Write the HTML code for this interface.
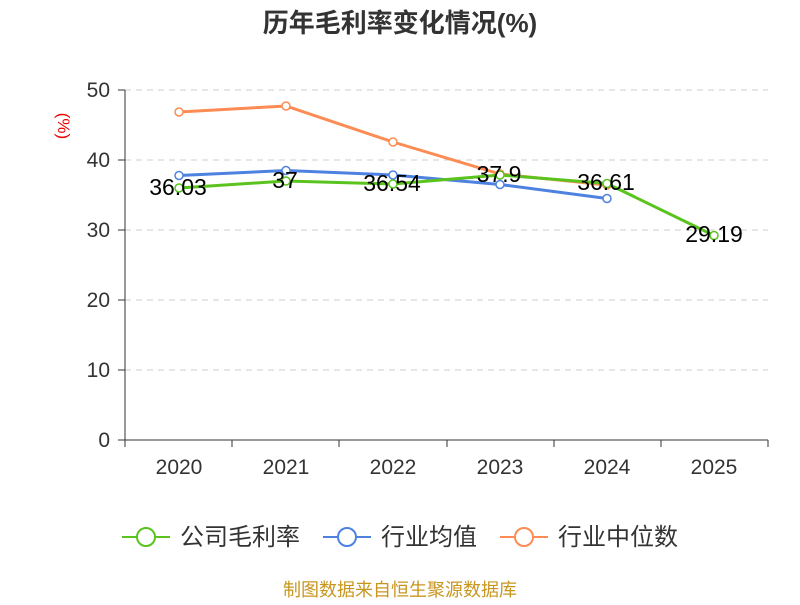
<!DOCTYPE html>
<html><head><meta charset="utf-8"><style>body{margin:0;background:#fff}</style></head><body>
<svg width="800" height="600" xmlns="http://www.w3.org/2000/svg" font-family="Liberation Sans, Noto Sans CJK SC, sans-serif">
<text x="400" y="32" text-anchor="middle" font-size="26" font-weight="bold" fill="#333">历年毛利率变化情况(%)</text>
<text x="58" y="126" transform="rotate(90 58 126)" text-anchor="middle" font-size="17" fill="#e00">(%)</text>
<g stroke="#ccc" stroke-dasharray="6,5">
<line x1="125" y1="90" x2="768" y2="90"/><line x1="125" y1="160" x2="768" y2="160"/><line x1="125" y1="230" x2="768" y2="230"/><line x1="125" y1="300" x2="768" y2="300"/><line x1="125" y1="370" x2="768" y2="370"/>
</g>
<g stroke="#333"><line x1="125" y1="90" x2="125" y2="440"/><line x1="125" y1="440" x2="768" y2="440"/>
<line x1="118" y1="90" x2="125" y2="90"/><line x1="118" y1="160" x2="125" y2="160"/><line x1="118" y1="230" x2="125" y2="230"/><line x1="118" y1="300" x2="125" y2="300"/><line x1="118" y1="370" x2="125" y2="370"/><line x1="118" y1="440" x2="125" y2="440"/>
<line x1="125" y1="440" x2="125" y2="447"/><line x1="232" y1="440" x2="232" y2="447"/><line x1="339" y1="440" x2="339" y2="447"/><line x1="447" y1="440" x2="447" y2="447"/><line x1="554" y1="440" x2="554" y2="447"/><line x1="661" y1="440" x2="661" y2="447"/><line x1="768" y1="440" x2="768" y2="447"/></g>
<g font-size="21" fill="#333" text-anchor="end"><text x="110" y="97">50</text><text x="110" y="167">40</text><text x="110" y="237">30</text><text x="110" y="307">20</text><text x="110" y="377">10</text><text x="110" y="447">0</text></g>
<g font-size="21" fill="#333" text-anchor="middle"><text x="179" y="474">2020</text><text x="286" y="474">2021</text><text x="393" y="474">2022</text><text x="500" y="474">2023</text><text x="607" y="474">2024</text><text x="714" y="474">2025</text></g>
<g fill="#fff" stroke-width="3">
<polyline points="179,112 286,106 393,142 500,174 607,185" stroke="#fc8c53" fill="none"/>
<polyline points="179,175.5 286,170.5 393,175 500,184.5 607,198.5" stroke="#4e82e0" fill="none"/>
<polyline points="179,188 286,181 393,184 500,175 607,183.5 714,235.5" stroke="#5ac31e" fill="none"/>
</g>
<g fill="#fff" stroke-width="1.5">
<g stroke="#fc8c53"><circle cx="179" cy="112" r="4"/><circle cx="286" cy="106" r="4"/><circle cx="393" cy="142" r="4"/><circle cx="500" cy="174" r="4"/><circle cx="607" cy="185" r="4"/></g>
<g stroke="#4e82e0"><circle cx="179" cy="175.5" r="4"/><circle cx="286" cy="170.5" r="4"/><circle cx="393" cy="175" r="4"/><circle cx="500" cy="184.5" r="4"/><circle cx="607" cy="198.5" r="4"/></g>
<g stroke="#5ac31e"><circle cx="179" cy="188" r="4"/><circle cx="286" cy="181" r="4"/><circle cx="393" cy="184" r="4"/><circle cx="500" cy="175" r="4"/><circle cx="607" cy="183.5" r="4"/><circle cx="714" cy="235.5" r="4"/></g>
</g>
<g font-size="23" fill="#000" text-anchor="middle"><text x="178" y="195">36.03</text><text x="285" y="188">37</text><text x="392" y="191">36.54</text><text x="499" y="182">37.9</text><text x="606" y="190">36.61</text><text x="714" y="242">29.19</text></g>
<g stroke-width="2" fill="#fff">
<line x1="122" y1="537" x2="170" y2="537" stroke="#5ac31e"/><circle cx="146" cy="537" r="9" stroke="#5ac31e"/>
<line x1="323" y1="537" x2="371" y2="537" stroke="#4e82e0"/><circle cx="347" cy="537" r="9" stroke="#4e82e0"/>
<line x1="500" y1="537" x2="548" y2="537" stroke="#fc8c53"/><circle cx="524" cy="537" r="9" stroke="#fc8c53"/>
</g>
<g font-size="24" fill="#333"><text x="180" y="545">公司毛利率</text><text x="381" y="545">行业均值</text><text x="558" y="545">行业中位数</text></g>
<text x="400" y="596" text-anchor="middle" font-size="18" fill="#c8961e">制图数据来自恒生聚源数据库</text>
</svg>
</body></html>
